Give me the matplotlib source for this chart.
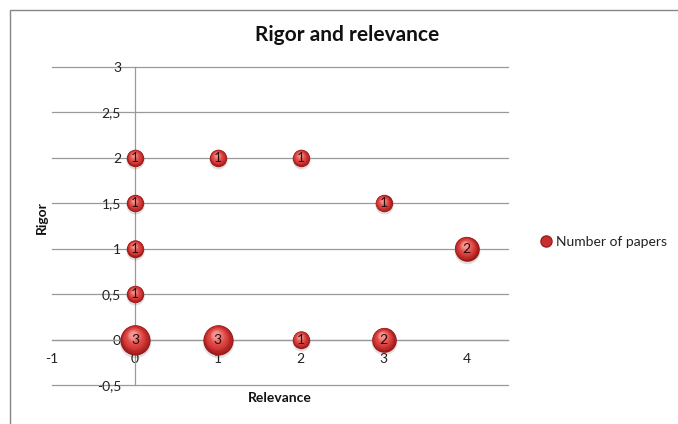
import matplotlib.pyplot as plt
import matplotlib.transforms as mtransforms
from matplotlib.lines import Line2D
from matplotlib.patches import Rectangle
import numpy as np

plt.rcParams['font.family'] = ['Lato', 'DejaVu Sans']

relevance = [0, 1, 2, 0, 3, 0, 4, 0, 0, 1, 2, 3]
rigor = [2, 2, 2, 1.5, 1.5, 1, 1, 0.5, 0, 0, 0, 0]
papers = [1, 1, 1, 1, 1, 1, 2, 1, 3, 3, 1, 2]

y_ticks = [-0.5, 0, 0.5, 1, 1.5, 2, 2.5, 3]
y_labels = ['-0,5', '0', '0,5', '1', '1,5', '2', '2,5', '3']
x_ticks = [-1, 0, 1, 2, 3, 4]
x_labels = ['-1', '0', '1', '2', '3', '4']

W, H = 678, 424
fig = plt.figure(figsize=(W / 100, H / 100), dpi=100)

# chart border
fig.patches.append(Rectangle((10 / W, -0.1), 1.2, (H - 10) / H + 0.1,
                             transform=fig.transFigure, fill=False,
                             edgecolor='#868686', linewidth=1.0))

ax = fig.add_axes([52 / W, 39 / H, 456 / W, 318 / H])
ax.set_xlim(-1, 4.5)
ax.set_ylim(-0.5, 3)

for s in ['top', 'right']:
    ax.spines[s].set_visible(False)
ax.spines['left'].set_position(('data', 0))
ax.spines['bottom'].set_position(('data', 0))
for s in ['left', 'bottom']:
    ax.spines[s].set_color('#9a9a9a')
    ax.spines[s].set_linewidth(0.9)

ax.set_yticks(y_ticks, y_labels)
ax.set_xticks(x_ticks, x_labels)
ax.tick_params(axis='both', length=0, labelsize=10, colors='#222222')
ax.tick_params(axis='y', pad=10)
ax.tick_params(axis='x', pad=10)
# horizontal gridlines
for yv in y_ticks:
    ax.axhline(yv, color='#9a9a9a', linewidth=0.9, clip_on=False, zorder=1)

# shaded bubbles, area proportional to the count
unit = 157.0
c0 = np.array([0.62, 0.10, 0.10])
c1 = np.array([0.86, 0.25, 0.24])
c2 = np.array([0.95, 0.58, 0.56])
for x, y, n in zip(relevance, rigor, papers):
    s = unit * n
    r = np.sqrt(s) / 2
    sh = mtransforms.offset_copy(ax.transData, fig=fig, x=0, y=-1.5, units='points')
    ax.scatter([x], [y], s=s * 1.08, color='#000000', alpha=0.12,
               transform=sh, zorder=3, linewidths=0)
    layers = 14
    for k in range(layers):
        f = 1 - k / layers * 0.8
        t = k / (layers - 1)
        if t < 0.45:
            col = c0 + (c1 - c0) * min(t * 2.2, 1)
        else:
            col = c1 + (c2 - c1) * ((t - 0.45) / 0.55) ** 1.5
        off = mtransforms.offset_copy(ax.transData, fig=fig,
                                      x=-(1 - f) * r * 0.15,
                                      y=(1 - f) * r * 0.45, units='points')
        ax.scatter([x], [y], s=s * f * f, color=col, transform=off,
                   zorder=4 + k * 0.01, linewidths=0)
    ax.text(x, y, str(n), ha='center', va='center', fontsize=10,
            color='#2a0a0a', zorder=6)

fig.text(347 / W, 1 - 35 / H, 'Rigor and relevance', ha='center', va='center',
         fontsize=15, fontweight='bold', color='#111111')
fig.text(280 / W, 1 - 398 / H, 'Relevance', ha='center', va='center',
         fontsize=10, fontweight='bold', color='#111111')
fig.text(42 / W, 1 - 218 / H, 'Rigor', ha='center', va='center', rotation=90,
         fontsize=10, fontweight='bold', color='#111111')

handle = Line2D([], [], linestyle='none', marker='o', markersize=8,
                markerfacecolor='#c83030', markeredgecolor='#a01c1c')
fig.legend([handle], ['Number of papers'], loc='center left',
           bbox_to_anchor=(525 / W, 1 - 242 / H), frameon=False,
           fontsize=10, handletextpad=0.1, handlelength=1.2,
           labelcolor='#222222')

fig.savefig('out.png', dpi=100)
